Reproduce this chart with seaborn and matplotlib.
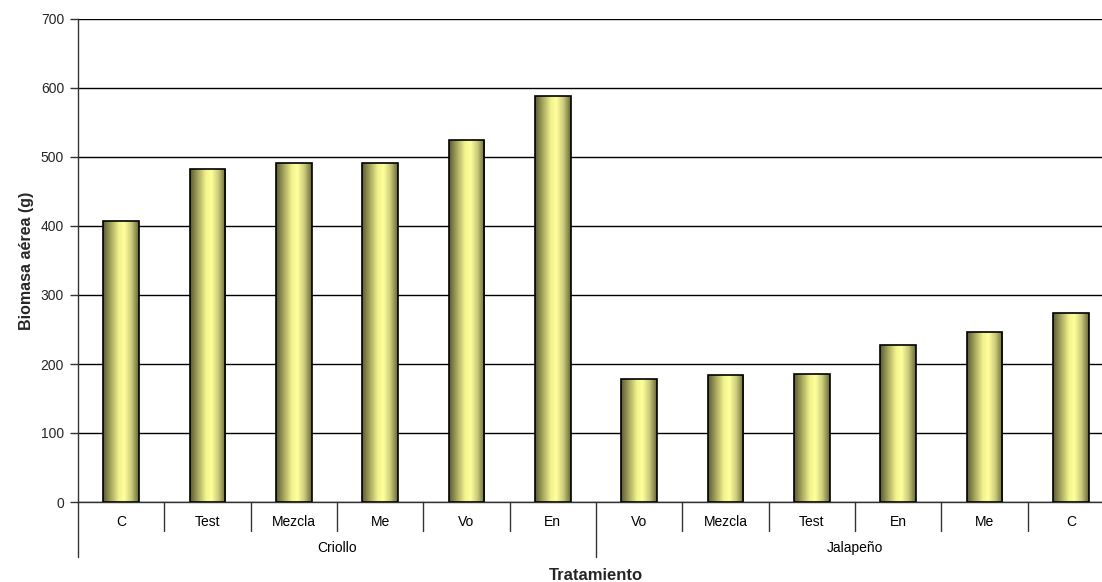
import numpy as np
import pandas as pd
import matplotlib
matplotlib.use("Agg")
import matplotlib.pyplot as plt
from matplotlib.colors import LinearSegmentedColormap
import matplotlib.transforms as mtransforms
import seaborn as sns

# Data
groups = ["Criollo", "Jalapeño"]
criollo_trat = ["C", "Test", "Mezcla", "Me", "Vo", "En"]
criollo_vals = [407, 483, 491, 492, 524, 588]
jalapeno_trat = ["Vo", "Mezcla", "Test", "En", "Me", "C"]
jalapeno_vals = [178, 184, 186, 228, 247, 274]

trat = criollo_trat + jalapeno_trat
vals = criollo_vals + jalapeno_vals
grp = [groups[0]] * len(criollo_trat) + [groups[1]] * len(jalapeno_trat)
df = pd.DataFrame({"key": [f"{g}|{t}" for g, t in zip(grp, trat)],
                   "Tratamiento": trat, "Grupo": grp, "Biomasa": vals})

sns.set_theme(style="white")
plt.rcParams["font.family"] = ["Liberation Sans", "DejaVu Sans"]

W, H = 1102, 582
fig = plt.figure(figsize=(W / 100, H / 100), dpi=100)
# plot area runs slightly past the right edge of the canvas
ax = fig.add_axes([78 / W, 80 / H, 1036 / W, 483 / H])

sns.barplot(data=df, x="key", y="Biomasa", order=df["key"].tolist(),
            color="#ffff99", edgecolor="black", linewidth=1.2, width=0.415,
            ax=ax, zorder=3)

# Cylinder-like horizontal shading inside each bar
cmap = LinearSegmentedColormap.from_list(
    "shade", [(0.0, "#5a5a34"), (0.2, "#a0a05a"), (0.45, "#f4f48e"),
              (0.6, "#ffff9c"), (0.8, "#c8c878"), (1.0, "#65653a")])
grad = np.linspace(0, 1, 256).reshape(1, -1)
for patch in ax.patches:
    x0, y0 = patch.get_x(), patch.get_y()
    w, h = patch.get_width(), patch.get_height()
    im = ax.imshow(grad, cmap=cmap, aspect="auto",
                   extent=[x0, x0 + w, y0, y0 + h], zorder=3.5)
    im.set_clip_path(patch)
    patch.set_facecolor("none")
    patch.set_zorder(4)

ax.set_xlim(-0.5, len(df) - 0.5)
ax.set_ylim(0, 700)
ax.set_yticks(np.arange(0, 701, 100))
ax.yaxis.grid(True, color="black", linewidth=1.0, zorder=0)
ax.set_axisbelow(True)
ax.tick_params(axis="y", left=True, length=6, width=1, color="#333333",
               labelsize=10, pad=4)
for s in ["top", "right"]:
    ax.spines[s].set_visible(False)
for s in ["left", "bottom"]:
    ax.spines[s].set_color("#333333")
    ax.spines[s].set_linewidth(1)

# Two-level category axis
ax.set_xticks([])
ax.set_xlabel("")
trans = mtransforms.blended_transform_factory(ax.transData, ax.transAxes)
px = 1 / 483  # one pixel in axes-y units
for i, t in enumerate(trat):
    ax.text(i, -20 * px, t, transform=trans, ha="center", va="center",
            fontsize=10, color="black")
n = len(trat)
for b in range(n + 1):
    xb = b - 0.5
    y_end = -55 * px if b in (0, len(criollo_trat), n) else -29 * px
    ax.plot([xb, xb], [0, y_end], transform=trans, color="#333333",
            linewidth=1, clip_on=False)
centers = [(len(criollo_trat) - 1) / 2,
           len(criollo_trat) + (len(jalapeno_trat) - 1) / 2]
for g, c in zip(groups, centers):
    ax.text(c, -46 * px, g, transform=trans, ha="center", va="center",
            fontsize=10, color="black")

ax.text(0.5, -73 * px, "Tratamiento", transform=ax.transAxes, ha="center",
        va="center", fontsize=12, fontweight="bold")
ax.set_ylabel("Biomasa aérea (g)", fontsize=11.5, fontweight="bold",
              labelpad=5)

fig.savefig("out.png", dpi=100)
